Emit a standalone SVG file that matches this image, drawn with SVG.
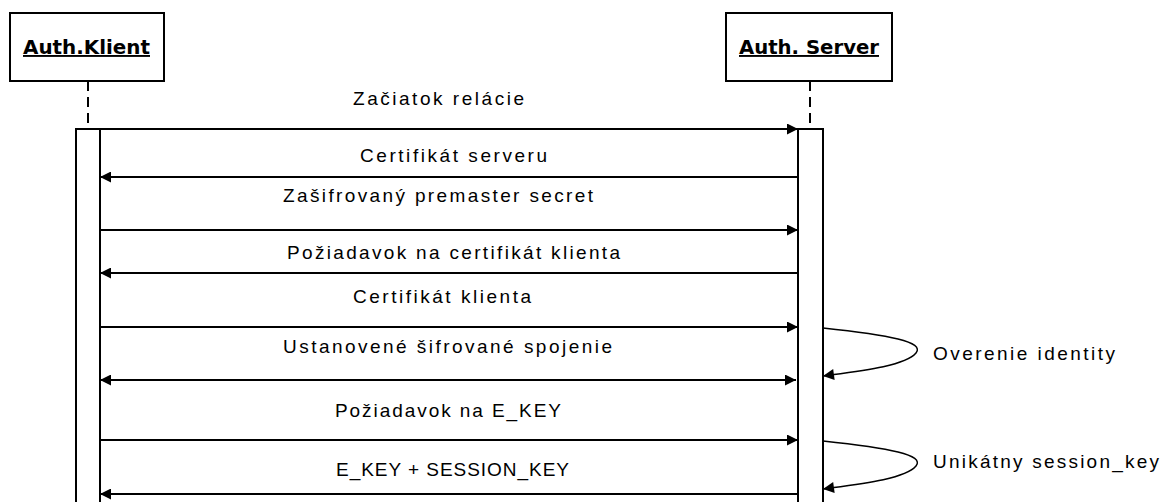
<svg xmlns="http://www.w3.org/2000/svg" width="1163" height="502" viewBox="0 0 1163 502">
<style>
.box{fill:#fff;stroke:#000;stroke-width:2}
.life{stroke:#000;stroke-width:2;stroke-dasharray:10,6;fill:none}
.msg{stroke:#000;stroke-width:2;fill:none}
.self{stroke:#000;stroke-width:1.5;fill:none}
.lbl{font-family:"Liberation Sans",Arial,sans-serif;font-size:19px;fill:#000}
.hdr{font-family:"DejaVu Sans",sans-serif;font-size:19px;font-weight:bold;fill:#000;text-decoration:underline}
</style>
<defs>
<marker id="ah2" viewBox="0 0 10 10" refX="10" refY="5" markerWidth="13" markerHeight="11" markerUnits="userSpaceOnUse" orient="auto-start-reverse">
<path d="M0,0 L10,5 L0,10 z" fill="#000"/>
</marker>
</defs>
<rect width="1163" height="502" fill="#fff"/>
<g id="klient">
<rect class="box" x="10" y="13" width="154" height="68"/>
<text class="hdr" x="23" y="54" textLength="127" lengthAdjust="spacingAndGlyphs">Auth.Klient</text>
<line class="life" x1="88" y1="81" x2="88" y2="129"/>
<rect class="box" x="76" y="129" width="24" height="380"/>
</g>
<g id="server">
<rect class="box" x="726" y="13" width="166" height="68"/>
<text class="hdr" x="739" y="54" textLength="140" lengthAdjust="spacingAndGlyphs">Auth. Server</text>
<line class="life" x1="810" y1="81" x2="810" y2="129"/>
<rect class="box" x="798" y="129" width="25" height="380"/>
</g>
<g id="connectors">
<line class="msg" x1="100" y1="129" x2="798" y2="129" marker-end="url(#ah2)"/>
<line class="msg" x1="798" y1="177" x2="100" y2="177" marker-end="url(#ah2)"/>
<line class="msg" x1="100" y1="230" x2="798" y2="230" marker-end="url(#ah2)"/>
<line class="msg" x1="798" y1="273" x2="100" y2="273" marker-end="url(#ah2)"/>
<line class="msg" x1="100" y1="327" x2="798" y2="327" marker-end="url(#ah2)"/>
<line class="msg" x1="100" y1="380" x2="796" y2="380" marker-start="url(#ah2)" marker-end="url(#ah2)"/>
<line class="msg" x1="100" y1="440" x2="798" y2="440" marker-end="url(#ah2)"/>
<line class="msg" x1="798" y1="494" x2="100" y2="494" marker-end="url(#ah2)"/>
<path class="self" d="M823,328 C890,335 925,342 916,353 C905,366 860,371 823,376" marker-end="url(#ah2)"/>
<path class="self" d="M823,441 C890,448 925,455 916,466 C905,479 860,484 823,489" marker-end="url(#ah2)"/>
</g>
<g id="labels">
<text class="lbl" x="353" y="105" textLength="171" lengthAdjust="spacing">Začiatok relácie</text>
<text class="lbl" x="360" y="162" textLength="187" lengthAdjust="spacing">Certifikát serveru</text>
<text class="lbl" x="283" y="202" textLength="310" lengthAdjust="spacing">Zašifrovaný premaster secret</text>
<text class="lbl" x="287" y="259" textLength="333" lengthAdjust="spacing">Požiadavok na certifikát klienta</text>
<text class="lbl" x="353" y="303" textLength="178" lengthAdjust="spacing">Certifikát klienta</text>
<text class="lbl" x="283" y="353" textLength="329" lengthAdjust="spacing">Ustanovené šifrované spojenie</text>
<text class="lbl" x="335" y="417" textLength="226" lengthAdjust="spacing">Požiadavok na E_KEY</text>
<text class="lbl" x="336" y="476" textLength="233" lengthAdjust="spacing">E_KEY + SESSION_KEY</text>
<text class="lbl" x="933" y="360" textLength="182" lengthAdjust="spacing">Overenie identity</text>
<text class="lbl" x="933" y="468" textLength="226" lengthAdjust="spacing">Unikátny session_key</text>
</g>
</svg>
